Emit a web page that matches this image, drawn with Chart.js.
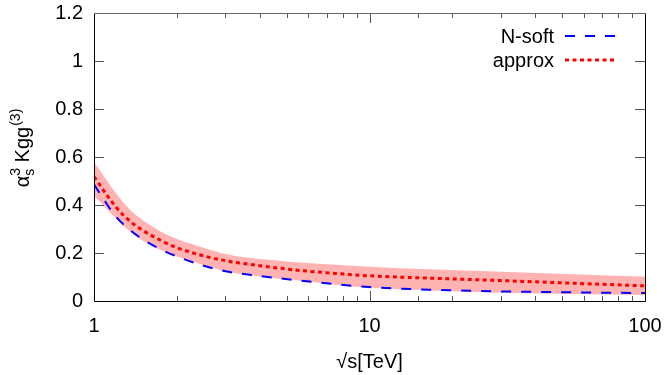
<!DOCTYPE html>
<html><head><meta charset="utf-8">
<script src="https://cdn.jsdelivr.net/npm/chart.js@4/dist/chart.umd.min.js"></script>
<style>html,body{margin:0;padding:0;background:#fff}#wrap{width:664px;height:375px}</style>
</head><body><div id="wrap"><canvas id="c" width="664" height="375"></canvas></div>
<script>
// ---- data ----
const sqrtS     = [1,     1.1,   1.2,   1.35,  1.5,   1.75,  2,     2.5,   3,     4,     5.3,   7.5,   10,    16.6,  30,    55,    100];
const approx    = [0.518, 0.450, 0.392, 0.333, 0.295, 0.252, 0.222, 0.188, 0.168, 0.147, 0.130, 0.115, 0.105, 0.095, 0.085, 0.074, 0.063];
const nsoft     = [0.486, 0.413, 0.352, 0.296, 0.258, 0.215, 0.186, 0.147, 0.124, 0.104, 0.088, 0.070, 0.058, 0.047, 0.040, 0.036, 0.033];
const bandUpper = [0.580, 0.510, 0.450, 0.380, 0.338, 0.289, 0.258, 0.222, 0.196, 0.175, 0.163, 0.151, 0.143, 0.132, 0.122, 0.111, 0.101];
const bandLower = [0.437, 0.390, 0.345, 0.290, 0.252, 0.212, 0.185, 0.150, 0.124, 0.102, 0.087, 0.068, 0.055, 0.044, 0.034, 0.029, 0.025];
const xTickLabels = [1, 10, 100];
const yTickStep = 0.2;
const yMax = 1.2;
const seriesNames = ['N-soft', 'approx'];

const pts = arr => sqrtS.map((s, i) => ({x: s, y: arr[i]}));
const FONT = "'Liberation Sans', Arial, sans-serif";
const FS = 20;

const framePlugin = {
  id: 'frame',
  afterDatasetsDraw(chart) {
    const {ctx, chartArea: {left, right, top, bottom}, scales: {x, y}} = chart;
    ctx.save();
    ctx.strokeStyle = '#555';
    ctx.lineWidth = 1;
    ctx.beginPath();
    x.ticks.forEach(t => {
      const v = t.value;
      if (v <= x.min || v >= x.max) return;
      const lg = Math.log10(v);
      const major = Math.abs(lg - Math.round(lg)) < 1e-9;
      const len = major ? 10 : 5;
      const px = Math.round(x.getPixelForValue(v)) + 0.5;
      ctx.moveTo(px, bottom); ctx.lineTo(px, bottom - len);
      ctx.moveTo(px, top); ctx.lineTo(px, top + len);
    });
    y.ticks.forEach(t => {
      const v = t.value;
      if (v <= y.min + 1e-9 || v >= y.max - 1e-9) return;
      const py = Math.round(y.getPixelForValue(v)) + 0.5;
      ctx.moveTo(left, py); ctx.lineTo(left + 10, py);
      ctx.moveTo(right, py); ctx.lineTo(right - 10, py);
    });
    ctx.stroke();
    ctx.strokeStyle = '#000';
    ctx.beginPath();
    const L = Math.round(left) + 0.5, R = Math.round(right) + 0.5, T = Math.round(top) + 0.5, B = Math.round(bottom) + 0.5;
    ctx.moveTo(L, T); ctx.lineTo(L, B); ctx.lineTo(R, B); ctx.lineTo(R, T);
    ctx.stroke();
    ctx.strokeStyle = '#666';
    ctx.beginPath(); ctx.moveTo(L, T); ctx.lineTo(R, T); ctx.stroke();

    // legend
    const ds = chart.data.datasets;
    const legendItems = [ds[1], ds[0]];
    ctx.font = FS + 'px ' + FONT;
    ctx.fillStyle = '#000';
    ctx.textAlign = 'right';
    ctx.textBaseline = 'middle';
    legendItems.forEach((d, i) => {
      const ly = 36 + i * 24;
      ctx.fillText(d.label, 554, ly + 1);
      ctx.strokeStyle = d.borderColor;
      ctx.lineWidth = d.borderWidth;
      ctx.setLineDash(d.borderDash);
      ctx.beginPath(); ctx.moveTo(565, ly); ctx.lineTo(616, ly); ctx.stroke();
      ctx.setLineDash([]);
    });

    // y title: alpha_s^3 Kgg^(3)
    ctx.translate(29, 148);
    ctx.rotate(-Math.PI / 2);
    ctx.textAlign = 'left';
    ctx.textBaseline = 'alphabetic';
    const big = FS + 'px ' + FONT, small = '14px ' + FONT;
    ctx.font = big; const wA = ctx.measureText('\u03b1').width;
    ctx.font = small; const wS = Math.max(ctx.measureText('3').width, ctx.measureText('s').width);
    ctx.font = big; const wK = ctx.measureText(' Kgg').width;
    ctx.font = small; const wP = ctx.measureText('(3)').width;
    const total = wA + wS + wK + wP + 1;
    let cx = -total / 2;
    ctx.font = big; ctx.fillText('\u03b1', cx, 0); cx += wA;
    ctx.font = small; ctx.fillText('3', cx, -9); ctx.fillText('s', cx, 5); cx += wS;
    ctx.font = big; ctx.fillText(' Kgg', cx, 0); cx += wK;
    ctx.font = small; ctx.fillText('(3)', cx + 1, -9);
    ctx.restore();
  }
};

new Chart(document.getElementById('c'), {
  type: 'line',
  data: {
    datasets: [
      {label: seriesNames[1], data: pts(approx), borderColor: '#ff0000', borderWidth: 3, borderDash: [4, 3.5], pointRadius: 0, fill: false, cubicInterpolationMode: 'monotone'},
      {label: seriesNames[0], data: pts(nsoft), borderColor: '#0000ff', borderWidth: 2, borderDash: [10, 10], pointRadius: 0, fill: false, cubicInterpolationMode: 'monotone'},
      {label: 'band upper', data: pts(bandUpper), borderWidth: 0, borderColor: 'rgba(0,0,0,0)', backgroundColor: '#ffb3b3', pointRadius: 0, fill: '+1', cubicInterpolationMode: 'monotone'},
      {label: 'band lower', data: pts(bandLower), borderWidth: 0, borderColor: 'rgba(0,0,0,0)', pointRadius: 0, fill: false, cubicInterpolationMode: 'monotone'}
    ]
  },
  options: {
    responsive: false,
    animation: false,
    devicePixelRatio: 1,
    layout: {autoPadding: false, padding: {left: 0, right: 19, top: 13, bottom: 0}},
    plugins: {legend: {display: false}, tooltip: {enabled: false}},
    scales: {
      x: {
        type: 'logarithmic', min: 1, max: 100,
        grid: {display: false, drawTicks: false},
        border: {display: false},
        ticks: {
          autoSkip: false, maxRotation: 0, padding: 13, color: '#000',
          font: {family: FONT, size: FS},
          callback: v => xTickLabels.includes(v) ? String(v) : ''
        },
        title: {display: true, text: '\u221as[TeV]', color: '#000', font: {family: FONT, size: FS}, padding: {top: 0, bottom: 1}},
        afterFit: s => { s.height = 74; s.paddingLeft = 0; s.paddingRight = 0; }
      },
      y: {
        min: 0, max: yMax,
        grid: {display: false, drawTicks: false},
        border: {display: false},
        ticks: {
          stepSize: yTickStep, padding: 11, color: '#000',
          font: {family: FONT, size: FS},
          callback: v => String(Math.round(v * 10) / 10)
        },
        afterFit: s => { s.width = 94; s.paddingTop = 0; s.paddingBottom = 0; }
      }
    }
  },
  plugins: [framePlugin]
});
</script>
</body></html>
